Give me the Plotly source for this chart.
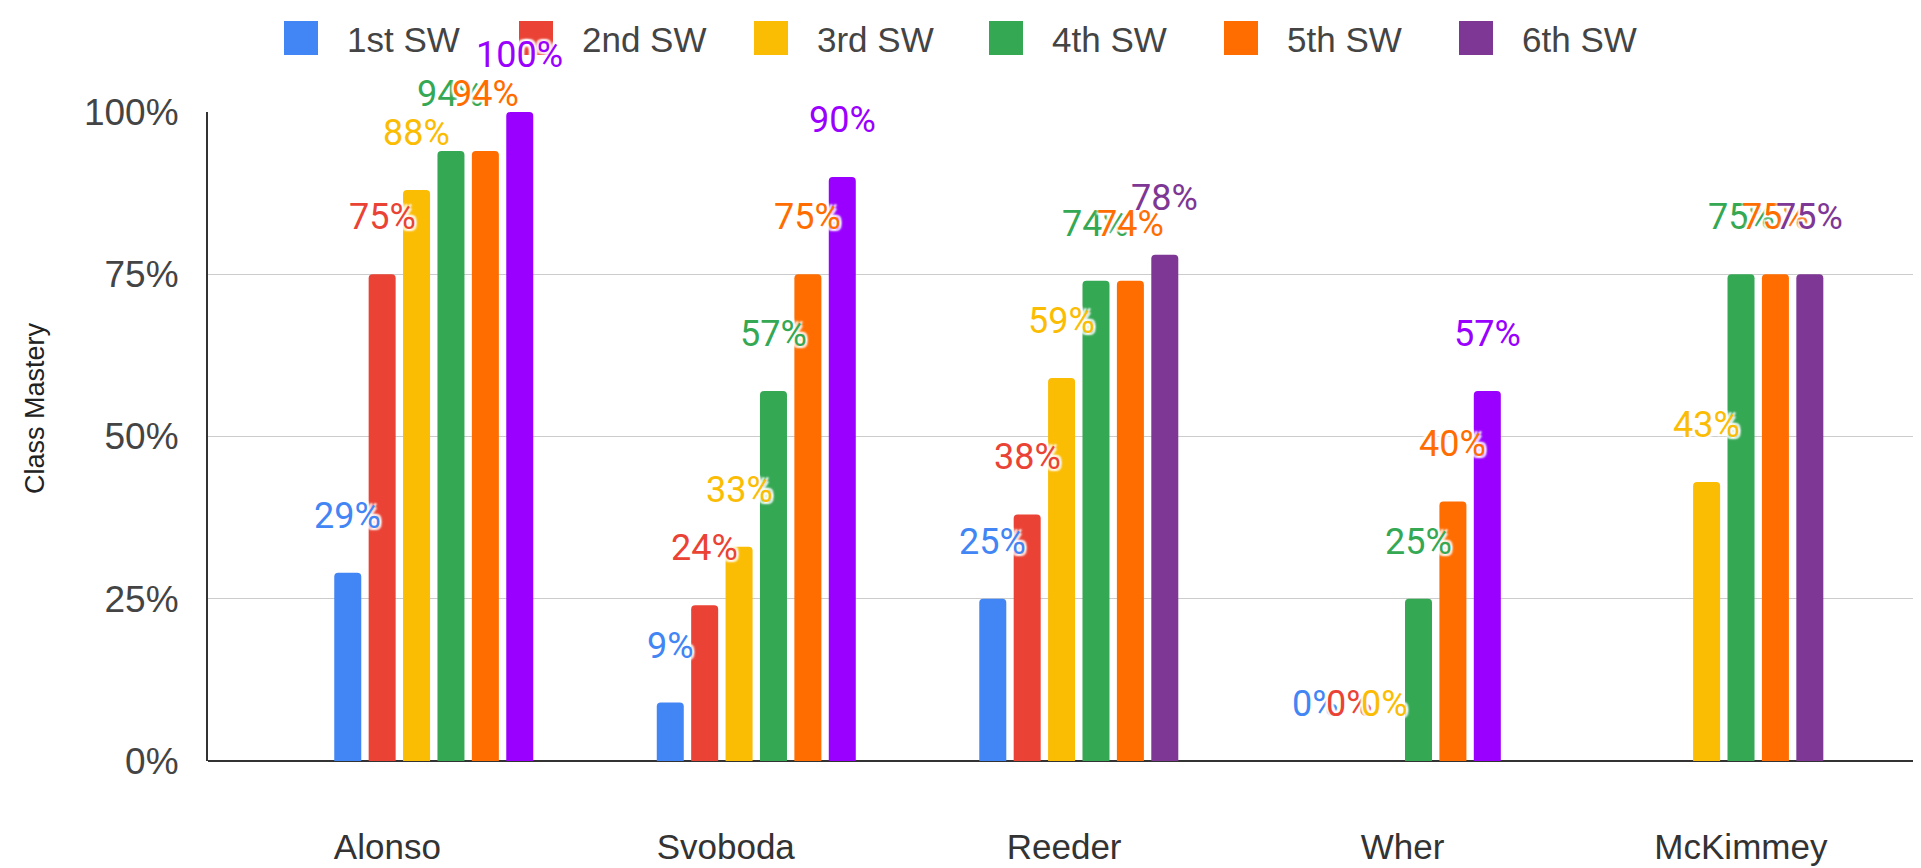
import plotly.graph_objects as go

# ---------------- data ----------------
categories = ["Alonso", "Svoboda", "Reeder", "Wher", "McKimmey"]
series_names = ["1st SW", "2nd SW", "3rd SW", "4th SW", "5th SW", "6th SW"]
sw1 = [0.29, 0.09, 0.25, 0.00, None]
sw2 = [0.75, 0.24, 0.38, 0.00, None]
sw3 = [0.88, 0.33, 0.59, 0.00, 0.43]
sw4 = [0.94, 0.57, 0.74, 0.25, 0.75]
sw5 = [0.94, 0.75, 0.74, 0.40, 0.75]
sw6 = [1.00, 0.90, 0.78, 0.57, 0.75]
series_values = [sw1, sw2, sw3, sw4, sw5, sw6]
y_tick_vals = [0, 0.25, 0.5, 0.75, 1.0]
y_tick_text = ["0%", "25%", "50%", "75%", "100%"]
y_title = "Class Mastery"

series_colors = ["#4285F4", "#EA4335", "#FBBC04", "#34A853", "#FF6D01", "#7E3794"]
sw6_bar_colors = ["#9900FF", "#9900FF", "#7E3794", "#9900FF", "#7E3794"]

# ---------------- geometry ----------------
W, H = 1921, 868
LEFT, RIGHT, TOP, BOTTOM = 200, 1919, 104, 753
BARGAP = 0.36
BARGROUPGAP = 0.215

def pxx(px):
    return (px - LEFT) / (RIGHT - LEFT)

def pxy(py):
    return (BOTTOM - py) / (BOTTOM - TOP)

fig = go.Figure()

n = len(series_names)
for i, (name, vals) in enumerate(zip(series_names, series_values)):
    colors = sw6_bar_colors if i == n - 1 else [series_colors[i]] * len(categories)
    fig.add_trace(go.Bar(
        name=name, x=categories, y=vals,
        marker=dict(color=colors, cornerradius=4, line=dict(width=0)),
        showlegend=False, hoverinfo="skip",
    ))

# invisible carrier so the category label axis gets drawn
fig.add_trace(go.Scatter(x=list(range(len(categories))), y=[0] * len(categories),
                         xaxis="x2", mode="markers", marker=dict(opacity=0),
                         showlegend=False, hoverinfo="skip"))

# data labels
slot = (1 - BARGAP) / n
annotations = []
for i, vals in enumerate(series_values):
    colors = sw6_bar_colors if i == n - 1 else [series_colors[i]] * len(categories)
    for j, v in enumerate(vals):
        if v is None:
            continue
        annotations.append(dict(
            x=j + (i - (n - 1) / 2) * slot, y=v, xref="x", yref="y",
            text=f"{round(v * 100)}%", showarrow=False,
            yshift=57, yanchor="middle", xanchor="center",
            font=dict(family="Roboto", size=36, color=colors[j],
                      shadow="2px 2px 2px white, -2px -2px 2px white, 2px -2px 2px white, -2px 2px 2px white"),
        ))

# y-axis title
annotations.append(dict(
    x=pxx(27), y=pxy(400), xref="paper", yref="paper", text=y_title,
    textangle=-90, showarrow=False, xanchor="center", yanchor="middle",
    font=dict(family="Liberation Sans", size=27, color="#222222"),
))

# manual legend (large squares like the reference)
shapes = []
sq, step, x0, ytop = 34, 235, 276, 13
for i, name in enumerate(series_names):
    xl = x0 + i * step
    shapes.append(dict(type="rect", xref="paper", yref="paper",
                       x0=pxx(xl), x1=pxx(xl + sq), y0=pxy(ytop + sq), y1=pxy(ytop),
                       fillcolor=series_colors[i], line=dict(width=0), layer="above"))
    annotations.append(dict(
        x=pxx(xl + sq + 27), y=pxy(ytop + sq / 2 + 1), xref="paper", yref="paper",
        text=name, showarrow=False, xanchor="left", yanchor="middle",
        font=dict(family="Liberation Sans", size=35, color="#444444"),
    ))

fig.update_layout(
    width=W, height=H,
    margin=dict(l=LEFT, r=W - RIGHT, t=TOP, b=H - BOTTOM),
    paper_bgcolor="white", plot_bgcolor="white",
    barmode="group", bargap=BARGAP, bargroupgap=BARGROUPGAP,
    showlegend=False,
    annotations=annotations, shapes=shapes,
    xaxis=dict(type="category", range=[-0.70, 4.63], showticklabels=False,
               showgrid=False, showline=False, zeroline=False, fixedrange=True),
    xaxis2=dict(overlaying="x", anchor="y", side="bottom", range=[-0.53, 4.55],
                tickmode="array", tickvals=list(range(len(categories))), ticktext=categories,
                showgrid=False, showline=False, zeroline=False, ticks="",
                ticklabelstandoff=62,
                tickfont=dict(family="Liberation Sans", size=35, color="#333333")),
    yaxis=dict(range=[0, 1], tickmode="array", tickvals=y_tick_vals, ticktext=y_tick_text,
               showgrid=True, gridcolor="#CCCCCC", gridwidth=1,
               zeroline=True, zerolinecolor="#333333", zerolinewidth=2,
               showline=True, linecolor="#333333", linewidth=2,
               ticks="", ticklabelstandoff=20,
               tickfont=dict(family="Liberation Sans", size=37, color="#444444")),
    font=dict(family="Liberation Sans"),
)

fig.write_html("out.html")
